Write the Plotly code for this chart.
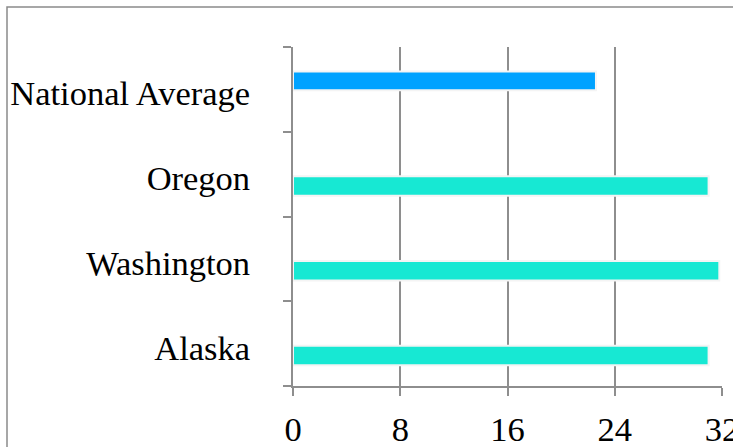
import plotly.graph_objects as go

# Categories, bottom to top
categories = ["Alaska", "Washington", "Oregon", "National Average"]
state_values = [31.0, 31.8, 31.0, None]
national_values = [None, None, None, 22.6]
x_ticks = [0, 8, 16, 24, 32]

GRID = "#8e8e8e"
FONT = dict(family="Liberation Serif, Times New Roman, serif", size=34.5, color="#000000")

fig = go.Figure()
fig.add_trace(go.Bar(
    y=categories, x=state_values, orientation="h",
    marker=dict(color="#17E8D3", line=dict(color="#f4f4f4", width=2)),
    width=0.23, offset=-0.255,
    showlegend=False,
))
fig.add_trace(go.Bar(
    y=categories, x=national_values, orientation="h",
    marker=dict(color="#00A2FF", line=dict(color="#f4f4f4", width=2)),
    width=0.22, offset=-0.01,
    showlegend=False,
))

fig.update_layout(
    width=733, height=447,
    margin=dict(l=293, r=11, t=47, b=61, autoexpand=False),
    paper_bgcolor="white", plot_bgcolor="white",
    barmode="overlay",
    font=FONT,
    xaxis=dict(
        range=[0, 32], tickmode="array", tickvals=x_ticks,
        ticktext=[str(v) for v in x_ticks],
        showgrid=True, gridcolor=GRID, gridwidth=2,
        showline=True, linecolor=GRID, linewidth=2,
        ticks="outside", ticklen=8, tickwidth=2, tickcolor=GRID,
        ticklabelstandoff=4, ticklabeloverflow="allow",
        zeroline=False, automargin=False, fixedrange=True,
    ),
    yaxis=dict(
        type="category", categoryorder="array", categoryarray=categories,
        range=[-0.5, 3.5],
        showgrid=False, showline=True, linecolor=GRID, linewidth=2,
        ticks="outside", ticklen=8, tickwidth=2, tickcolor=GRID,
        tickson="boundaries", ticklabelstandoff=34, ticklabelshift=4,
        zeroline=False, automargin=False, fixedrange=True,
    ),
    shapes=[dict(
        type="rect", xref="paper", yref="paper",
        x0=(7 - 293) / 429, x1=1.5, y0=-0.5, y1=1 + 40 / 339,
        line=dict(color="#8a8a8a", width=1.5), fillcolor="rgba(0,0,0,0)",
        layer="below",
    )],
)

fig.write_html("out.html", config={"displayModeBar": False})
